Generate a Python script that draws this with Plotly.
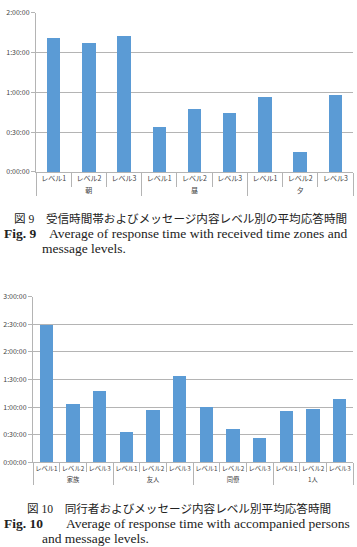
import plotly.graph_objects as go

W, H = 357, 547

# ---- Data (minutes) ----
fig9_groups = ["朝", "朝", "朝", "昼", "昼", "昼", "夕", "夕", "夕"]
fig9_levels = ["レベル1", "レベル2", "レベル3"] * 3
fig9_values = [101, 97, 103, 34, 47.5, 44.5, 56.5, 15, 58.5]
fig9_tickvals = [0, 30, 60, 90, 120]
fig9_ticktext = ["0:00:00", "0:30:00", "1:00:00", "1:30:00", "2:00:00"]

fig10_groups = ["家族"] * 3 + ["友人"] * 3 + ["同僚"] * 3 + ["1人"] * 3
fig10_levels = ["レベル1", "レベル2", "レベル3"] * 4
fig10_values = [150, 64, 78, 34, 57, 94, 61, 37, 26.5, 56.5, 58, 69]
fig10_tickvals = [0, 30, 60, 90, 120, 150, 180]
fig10_ticktext = ["0:00:00", "0:30:00", "1:00:00", "1:30:00", "2:00:00", "2:30:00", "3:00:00"]

cap9_jp = "図 9　受信時間帯およびメッセージ内容レベル別の平均応答時間"
cap9_en1 = "<b>Fig. 9</b>    Average of response time with received time zones and"
cap9_en2 = "message levels."
cap10_jp = "図 10　同行者およびメッセージ内容レベル別平均応答時間"
cap10_en1 = "<b>Fig. 10</b>       Average of response time with accompanied persons"
cap10_en2 = "and message levels."

BAR = "#5b9bd5"
GRID = "#b4b4b4"
TXT = "#444444"
LABEL_FONT = "Noto Sans CJK JP, Noto Sans, sans-serif"
SERIF = "Liberation Serif, DejaVu Serif, Noto Sans CJK JP, serif"

def px_x(p):
    return p / W

def px_y(p):
    return 1 - p / H

fig = go.Figure()
fig.add_trace(go.Bar(x=[fig9_groups, fig9_levels], y=fig9_values, marker_color=BAR,
                     marker_line_width=0, width=0.38, xaxis="x", yaxis="y"))
fig.add_trace(go.Bar(x=[fig10_groups, fig10_levels], y=fig10_values, marker_color=BAR,
                     marker_line_width=0, width=0.5, xaxis="x2", yaxis="y2"))

common_x = dict(type="multicategory", showline=True, linecolor=GRID, linewidth=1,
                ticks="outside", tickson="boundaries", tickcolor=GRID, tickangle=0,
                showdividers=True, dividercolor=GRID, dividerwidth=1,
                showgrid=False, zeroline=False, fixedrange=True)
common_y = dict(showline=True, linecolor=GRID, linewidth=1, showgrid=True, gridcolor=GRID,
                gridwidth=1, ticks="outside", ticklen=4, tickcolor=GRID, zeroline=False,
                tickfont=dict(size=7, color=TXT, family=LABEL_FONT), fixedrange=True)

fig.update_layout(
    width=W, height=H, margin=dict(l=0, r=0, t=0, b=0),
    paper_bgcolor="white", plot_bgcolor="white", showlegend=False, bargap=0,
    xaxis=dict(domain=[px_x(36), px_x(353)], anchor="y", ticklen=14,
               tickfont=dict(size=7, color=TXT, family=LABEL_FONT), **common_x),
    yaxis=dict(domain=[px_y(169), px_y(7)], anchor="x", range=[0, 120],
               tickvals=fig9_tickvals, ticktext=fig9_ticktext, **common_y),
    xaxis2=dict(domain=[px_x(33), px_x(353)], anchor="y2", ticklen=9,
                tickfont=dict(size=6.3, color=TXT, family=LABEL_FONT), **common_x),
    yaxis2=dict(domain=[px_y(465), px_y(296)], anchor="x2", range=[0, 180],
                tickvals=fig10_tickvals, ticktext=fig10_ticktext, **common_y),
)

def ann(text, x, y, anchor="center", size=12):
    fig.add_annotation(text=text, xref="paper", yref="paper", x=px_x(x), y=px_y(y),
                       xanchor=anchor, yanchor="middle", showarrow=False,
                       font=dict(family=SERIF, size=size, color="#222222"))

ann(cap9_jp, 180, 217, size=11.6)
ann(cap9_en1, 2, 232, "left", size=13.5)
ann(cap9_en2, 40, 247, "left", size=13.5)
ann(cap10_jp, 179, 512, size=11.6)
ann(cap10_en1, 2, 527, "left", size=13.5)
ann(cap10_en2, 40, 542, "left", size=13.5)

fig.write_html("out.html")
